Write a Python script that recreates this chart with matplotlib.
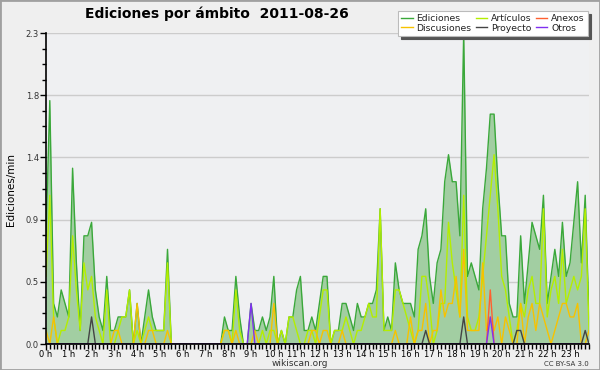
import matplotlib
matplotlib.use("Agg")
import numpy as np
import matplotlib.pyplot as plt
from matplotlib.patches import Rectangle
from matplotlib.ticker import MultipleLocator, FixedLocator, FormatStrFormatter

# ediciones por minuto, un valor cada 10 minutos (144 por día), 12 por fila = 2 horas
ediciones = [
    0.8, 1.8, 0.3, 0.2, 0.4, 0.3, 0.2, 1.3, 0.6, 0.1, 0.8, 0.8,
    0.9, 0.4, 0.2, 0.1, 0.5, 0.1, 0.1, 0.2, 0.2, 0.2, 0.4, 0.0,
    0.3, 0.0, 0.2, 0.4, 0.2, 0.1, 0.1, 0.1, 0.7, 0.0, 0.0, 0.0,
    0.0, 0.0, 0.0, 0.0, 0.0, 0.0, 0.0, 0.0, 0.0, 0.0, 0.0, 0.2,
    0.1, 0.1, 0.5, 0.2, 0.0, 0.0, 0.3, 0.1, 0.1, 0.2, 0.1, 0.2,
    0.5, 0.0, 0.1, 0.0, 0.2, 0.2, 0.4, 0.5, 0.1, 0.1, 0.2, 0.1,
    0.3, 0.5, 0.5, 0.0, 0.1, 0.1, 0.3, 0.3, 0.2, 0.1, 0.3, 0.2,
    0.2, 0.3, 0.3, 0.4, 1.0, 0.1, 0.2, 0.1, 0.6, 0.4, 0.3, 0.3,
    0.3, 0.2, 0.7, 0.8, 1.0, 0.5, 0.3, 0.6, 0.7, 1.2, 1.4, 1.2,
    1.2, 0.8, 2.3, 0.5, 0.6, 0.5, 0.4, 1.0, 1.3, 1.7, 1.7, 1.2,
    0.8, 0.8, 0.3, 0.2, 0.2, 0.8, 0.3, 0.6, 0.9, 0.8, 0.7, 1.1,
    0.3, 0.5, 0.7, 0.5, 0.9, 0.5, 0.6, 0.9, 1.2, 0.6, 1.1, 0.2,
]
articulos = [
    0.5, 1.1, 0.2, 0.0, 0.1, 0.1, 0.2, 0.8, 0.4, 0.1, 0.6, 0.4,
    0.5, 0.2, 0.1, 0.0, 0.4, 0.0, 0.0, 0.1, 0.2, 0.2, 0.4, 0.0,
    0.1, 0.0, 0.1, 0.2, 0.1, 0.1, 0.1, 0.1, 0.6, 0.0, 0.0, 0.0,
    0.0, 0.0, 0.0, 0.0, 0.0, 0.0, 0.0, 0.0, 0.0, 0.0, 0.0, 0.1,
    0.1, 0.0, 0.4, 0.1, 0.0, 0.0, 0.0, 0.0, 0.0, 0.1, 0.0, 0.1,
    0.1, 0.0, 0.1, 0.0, 0.2, 0.2, 0.1, 0.0, 0.0, 0.1, 0.1, 0.0,
    0.2, 0.4, 0.4, 0.0, 0.1, 0.1, 0.1, 0.2, 0.1, 0.0, 0.1, 0.1,
    0.2, 0.3, 0.2, 0.2, 1.0, 0.1, 0.1, 0.1, 0.4, 0.4, 0.3, 0.2,
    0.1, 0.0, 0.1, 0.5, 0.5, 0.3, 0.0, 0.1, 0.3, 0.3, 0.9, 0.6,
    0.4, 0.2, 1.1, 0.2, 0.1, 0.1, 0.2, 0.5, 0.8, 1.1, 1.4, 1.0,
    0.5, 0.4, 0.2, 0.0, 0.1, 0.3, 0.2, 0.4, 0.5, 0.3, 0.3, 1.0,
    0.2, 0.4, 0.5, 0.3, 0.7, 0.3, 0.4, 0.5, 0.4, 0.5, 1.0, 0.1,
]
discusiones = [
    0.1, 0.0, 0.2, 0.0, 0.0, 0.0, 0.0, 0.0, 0.0, 0.0, 0.0, 0.0,
    0.0, 0.0, 0.0, 0.0, 0.0, 0.0, 0.1, 0.1, 0.0, 0.0, 0.0, 0.0,
    0.3, 0.0, 0.0, 0.1, 0.1, 0.0, 0.0, 0.0, 0.1, 0.0, 0.0, 0.0,
    0.0, 0.0, 0.0, 0.0, 0.0, 0.0, 0.0, 0.0, 0.0, 0.0, 0.0, 0.1,
    0.1, 0.0, 0.1, 0.0, 0.0, 0.0, 0.0, 0.1, 0.0, 0.0, 0.0, 0.0,
    0.3, 0.0, 0.0, 0.0, 0.0, 0.0, 0.0, 0.0, 0.0, 0.0, 0.1, 0.1,
    0.0, 0.1, 0.1, 0.0, 0.0, 0.0, 0.1, 0.0, 0.0, 0.0, 0.0, 0.0,
    0.0, 0.0, 0.0, 0.0, 0.0, 0.0, 0.0, 0.0, 0.1, 0.0, 0.0, 0.0,
    0.2, 0.0, 0.1, 0.1, 0.3, 0.0, 0.1, 0.1, 0.4, 0.2, 0.3, 0.3,
    0.5, 0.2, 0.7, 0.1, 0.1, 0.1, 0.1, 0.6, 0.1, 0.2, 0.1, 0.2,
    0.0, 0.2, 0.1, 0.0, 0.0, 0.3, 0.0, 0.2, 0.3, 0.1, 0.3, 0.2,
    0.1, 0.0, 0.1, 0.2, 0.3, 0.3, 0.2, 0.2, 0.3, 0.0, 0.0, 0.1,
]
proyecto = [
    0.0, 0.0, 0.0, 0.0, 0.0, 0.0, 0.0, 0.0, 0.0, 0.0, 0.0, 0.0,
    0.2, 0.0, 0.0, 0.0, 0.0, 0.0, 0.0, 0.0, 0.0, 0.0, 0.0, 0.0,
    0.0, 0.0, 0.0, 0.0, 0.0, 0.0, 0.0, 0.0, 0.0, 0.0, 0.0, 0.0,
    0.0, 0.0, 0.0, 0.0, 0.0, 0.0, 0.0, 0.0, 0.0, 0.0, 0.0, 0.0,
    0.0, 0.0, 0.0, 0.0, 0.0, 0.0, 0.0, 0.0, 0.0, 0.0, 0.0, 0.0,
    0.0, 0.0, 0.0, 0.0, 0.0, 0.0, 0.0, 0.0, 0.0, 0.0, 0.0, 0.0,
    0.0, 0.0, 0.0, 0.0, 0.0, 0.0, 0.0, 0.0, 0.0, 0.0, 0.0, 0.0,
    0.0, 0.0, 0.0, 0.0, 0.0, 0.0, 0.0, 0.0, 0.0, 0.0, 0.0, 0.0,
    0.0, 0.0, 0.0, 0.0, 0.1, 0.0, 0.0, 0.0, 0.0, 0.0, 0.0, 0.0,
    0.0, 0.0, 0.2, 0.0, 0.0, 0.0, 0.0, 0.0, 0.0, 0.0, 0.0, 0.0,
    0.0, 0.0, 0.0, 0.0, 0.1, 0.1, 0.0, 0.0, 0.0, 0.0, 0.0, 0.0,
    0.0, 0.0, 0.0, 0.0, 0.0, 0.0, 0.0, 0.0, 0.0, 0.0, 0.1, 0.0,
]
anexos = [
    0.0, 0.0, 0.0, 0.0, 0.0, 0.0, 0.0, 0.0, 0.0, 0.0, 0.0, 0.0,
    0.0, 0.0, 0.0, 0.0, 0.0, 0.0, 0.0, 0.0, 0.0, 0.0, 0.0, 0.0,
    0.0, 0.0, 0.0, 0.0, 0.0, 0.0, 0.0, 0.0, 0.0, 0.0, 0.0, 0.0,
    0.0, 0.0, 0.0, 0.0, 0.0, 0.0, 0.0, 0.0, 0.0, 0.0, 0.0, 0.0,
    0.0, 0.0, 0.0, 0.0, 0.0, 0.0, 0.0, 0.0, 0.0, 0.0, 0.0, 0.0,
    0.0, 0.0, 0.0, 0.0, 0.0, 0.0, 0.0, 0.0, 0.0, 0.0, 0.0, 0.0,
    0.0, 0.0, 0.0, 0.0, 0.0, 0.0, 0.0, 0.0, 0.0, 0.0, 0.0, 0.0,
    0.0, 0.0, 0.0, 0.0, 0.0, 0.0, 0.0, 0.0, 0.0, 0.0, 0.0, 0.0,
    0.0, 0.0, 0.0, 0.0, 0.0, 0.0, 0.0, 0.0, 0.0, 0.0, 0.0, 0.0,
    0.0, 0.0, 0.0, 0.0, 0.0, 0.0, 0.0, 0.0, 0.0, 0.4, 0.0, 0.0,
    0.0, 0.0, 0.0, 0.0, 0.0, 0.0, 0.0, 0.0, 0.0, 0.0, 0.0, 0.0,
    0.0, 0.0, 0.0, 0.0, 0.0, 0.0, 0.0, 0.0, 0.0, 0.0, 0.0, 0.0,
]
otros = [
    0.0, 0.0, 0.0, 0.0, 0.0, 0.0, 0.0, 0.0, 0.0, 0.0, 0.0, 0.0,
    0.0, 0.0, 0.0, 0.0, 0.0, 0.0, 0.0, 0.0, 0.0, 0.0, 0.0, 0.0,
    0.0, 0.0, 0.0, 0.0, 0.0, 0.0, 0.0, 0.0, 0.0, 0.0, 0.0, 0.0,
    0.0, 0.0, 0.0, 0.0, 0.0, 0.0, 0.0, 0.0, 0.0, 0.0, 0.0, 0.0,
    0.0, 0.0, 0.0, 0.0, 0.0, 0.0, 0.3, 0.0, 0.0, 0.0, 0.0, 0.0,
    0.0, 0.0, 0.0, 0.0, 0.0, 0.0, 0.0, 0.0, 0.0, 0.0, 0.0, 0.0,
    0.0, 0.0, 0.0, 0.0, 0.0, 0.0, 0.0, 0.0, 0.0, 0.0, 0.0, 0.0,
    0.0, 0.0, 0.0, 0.0, 0.0, 0.0, 0.0, 0.0, 0.0, 0.0, 0.0, 0.0,
    0.0, 0.0, 0.0, 0.0, 0.0, 0.0, 0.0, 0.0, 0.0, 0.0, 0.0, 0.0,
    0.0, 0.0, 0.0, 0.0, 0.0, 0.0, 0.0, 0.0, 0.0, 0.2, 0.0, 0.0,
    0.0, 0.0, 0.0, 0.0, 0.0, 0.0, 0.0, 0.0, 0.0, 0.0, 0.0, 0.0,
    0.0, 0.0, 0.0, 0.0, 0.0, 0.0, 0.0, 0.0, 0.0, 0.0, 0.0, 0.0,
]

horas = ["%d h" % h for h in range(24)]
titulo = "Ediciones por ámbito  2011-08-26"
y_max = 2.3

fig = plt.figure(figsize=(6, 3.7), dpi=100, facecolor="#efefef")
ax = fig.add_axes([46 / 600, 1 - 344 / 370, 543 / 600, 311 / 370])
ax.set_facecolor("#eff0f2")

x = np.arange(len(ediciones))

# área de ediciones totales
ax.fill_between(x, ediciones, 0, color="#a2cea2", lw=0)
l_ed, = ax.plot(x, ediciones, color="#3aa83a", lw=1.0, label="Ediciones")
l_art, = ax.plot(x, articulos, color="#b4ee00", lw=1.0, label="Artículos")
l_dis, = ax.plot(x, discusiones, color="#f7c200", lw=1.0, label="Discusiones")
l_anx, = ax.plot(x, anexos, color="#ff6030", lw=1.0, label="Anexos")
l_pro, = ax.plot(x, proyecto, color="#444444", lw=1.0, label="Proyecto")
l_otr, = ax.plot(x, otros, color="#8030f0", lw=1.0, label="Otros")

ax.set_xlim(0, len(ediciones) - 1)
ax.set_ylim(0, y_max)

# ejes
for s in ["top", "right"]:
    ax.spines[s].set_visible(False)
for s in ["left", "bottom"]:
    ax.spines[s].set_color("black")
    ax.spines[s].set_linewidth(1.2)

ax.xaxis.set_major_locator(FixedLocator(np.arange(0, 144, 6)))
ax.set_xticklabels(horas)
ax.xaxis.set_minor_locator(MultipleLocator(1))
ax.tick_params(axis="x", which="major", length=4, width=1, labelsize=6, pad=0, colors="black")
ax.tick_params(axis="x", which="minor", length=3.5, width=1)

ax.yaxis.set_major_locator(FixedLocator(np.linspace(0, y_max, 6)))
ax.yaxis.set_major_formatter(FormatStrFormatter("%.1f"))
ax.yaxis.set_minor_locator(MultipleLocator(y_max / 20))
ax.tick_params(axis="y", which="major", length=4, width=1, labelsize=6, pad=1, labelcolor="#333333")
ax.tick_params(axis="y", which="minor", length=3, width=1)

ax.grid(axis="y", color="#cccccc", lw=1)
ax.set_axisbelow(True)

handles = [l_ed, l_dis, l_art, l_pro, l_anx, l_otr]
leg = ax.legend(handles=handles, ncol=3, loc="upper right",
                bbox_to_anchor=(588 / 600, 1 - 11 / 370), bbox_transform=fig.transFigure,
                fontsize=6.7, frameon=True, fancybox=False, shadow={"color": "#555555", "alpha": 1},
                handlelength=1.2, handletextpad=0.4, columnspacing=0.5,
                labelspacing=0.05, borderpad=0.35, borderaxespad=0)
leg.get_frame().set_edgecolor("#bbbbbb")
leg.get_frame().set_linewidth(0.8)
for t in leg.get_texts():
    t.set_color("#222222")

fig.text(85 / 600, 1 - 14 / 370, titulo, fontsize=10, fontweight="bold", va="center", ha="left")
fig.text(11 / 600, 1 - 190 / 370, "Ediciones/min", fontsize=7.5, rotation=90, ha="center", va="center")
fig.text(300 / 600, 1 - 364 / 370, "wikiscan.org", fontsize=6.5, ha="center", va="center", color="#333333")
fig.text(589 / 600, 1 - 364 / 370, "CC BY-SA 3.0", fontsize=5, ha="right", va="center", color="#333333")

# marco de la imagen
fig.add_artist(Rectangle((0, 0), 1, 1, transform=fig.transFigure, fill=False,
                         edgecolor="#a0a0a0", lw=2))

fig.savefig("out.png", dpi=100, facecolor=fig.get_facecolor())
